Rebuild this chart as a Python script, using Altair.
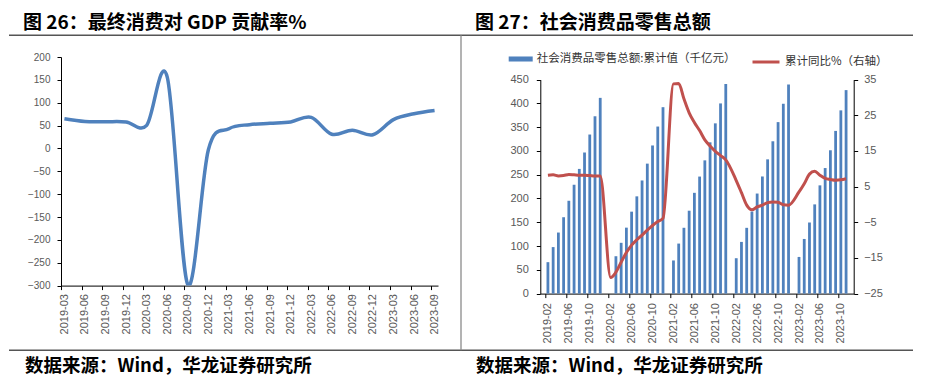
import altair as alt
import pandas as pd

# ---------------- Left chart: final consumption contribution to GDP (%) ----------------
gdp_labels = ["2019-03", "2019-06", "2019-09", "2019-12", "2020-03", "2020-06", "2020-09",
              "2020-12", "2021-03", "2021-06", "2021-09", "2021-12", "2022-03", "2022-06",
              "2022-09", "2022-12", "2023-03", "2023-06", "2023-09"]
gdp_values = [65, 59, 58.5, 58, 50.5, 156, -298, -3, 43, 52, 55, 58, 68, 31, 40, 30, 63, 76, 83]
gdp_y_ticks = [200, 150, 100, 50, 0, -50, -100, -150, -200, -250, -300]

# ---------------- Right chart: retail sales (cumulative, 千亿元) and YoY (%) ----------------
retail_years = [2019, 2020, 2021, 2022, 2023]
retail_2019 = [66.1, 97.8, 128.4, 160.6, 195.2, 228.9, 262.2, 296.7, 334.5, 372.9, 411.6]
retail_2020 = [None, 78.6, 106.8, 138.7, 172.3, 204.5, 237.9, 273.3, 311.5, 351.3, 392.0]
retail_2021 = [69.7, 105.2, 138.4, 174.3, 211.9, 246.1, 280.2, 318.1, 358.0, 399.9, 440.8]
retail_2022 = [74.4, 108.7, 138.3, 172.6, 210.4, 246.3, 282.3, 320.3, 360.6, 399.2, 439.7]
retail_2023 = [77.1, 114.9, 149.5, 187.6, 227.6, 264.0, 301.4, 342.1, 385.3, 427.9]
yoy_2019 = [8.2, 8.3, 8.0, 8.1, 8.4, 8.3, 8.2, 8.2, 8.1, 8.0, 8.0]
yoy_2020 = [-20.5, -19.0, -16.2, -13.5, -11.4, -9.9, -8.6, -7.2, -5.9, -4.8, -3.9]
yoy_2021 = [33.8, 33.9, 29.6, 25.7, 23.0, 20.7, 18.1, 16.4, 14.9, 13.7, 12.5]
yoy_2022 = [6.7, 3.3, -0.2, -1.5, -0.7, -0.2, 0.5, 0.7, 0.6, -0.1, -0.2]
yoy_2023 = [3.5, 5.8, 8.5, 9.3, 8.2, 7.3, 7.0, 6.8, 6.9, 7.2]
retail_tick_labels = ["2019-02", "2019-06", "2019-10", "2020-02", "2020-06", "2020-10",
                      "2021-02", "2021-06", "2021-10", "2022-02", "2022-06", "2022-10",
                      "2023-02", "2023-06", "2023-10"]
retail_y_ticks = [0, 50, 100, 150, 200, 250, 300, 350, 400, 450]
yoy_y_ticks = [-25, -15, -5, 5, 15, 25, 35]

title_left = "图 26：最终消费对 GDP 贡献率%"
title_right = "图 27：社会消费品零售总额"
source_text = "数据来源：Wind，华龙证券研究所"
bar_name = "社会消费品零售总额:累计值（千亿元）"
line_name = "累计同比%（右轴）"

BLUE = "#4f81bd"
RED = "#c0504d"
GRAY = "#595959"
LABEL_FONT = "Liberation Sans"
CJK = "Noto Sans CJK SC"

# ---- tables ----
gdp_df = pd.DataFrame({"m": [i * 3 for i in range(len(gdp_labels))],
                       "label": gdp_labels, "value": gdp_values})

rows = []
retail_all = [retail_2019, retail_2020, retail_2021, retail_2022, retail_2023]
yoy_all = [yoy_2019, yoy_2020, yoy_2021, yoy_2022, yoy_2023]
for yi, year in enumerate(retail_years):
    for j, (v, r) in enumerate(zip(retail_all[yi], yoy_all[yi])):
        month = j + 2
        k = yi * 12 + (month - 2)
        rows.append({"k": k, "month": f"{year}-{month:02d}", "value": v, "yoy": r,
                     "sb": bar_name, "sl": line_name})
retail_df = pd.DataFrame(rows)
bar_df = retail_df.dropna(subset=["value"])

# ---- geometry (plot areas) ----
W1, H1 = 377, 228.6
W2, H2 = 313.4, 236.6
TOP2 = 22.6
N1 = 55  # months in left domain
N2 = 58  # months in right domain
half1 = W1 / N1 / 2
half2 = W2 / N2 / 2

one = alt.Data(values=[{"a": 1}])

# ---------------- Left panel ----------------
left_line = alt.Chart(gdp_df).mark_line(
    color=BLUE, strokeWidth=3.5, interpolate="cardinal", clip=True
).encode(
    x=alt.X("m:Q", scale=alt.Scale(domain=[-0.5, N1 - 0.5], nice=False, zero=False),
            axis=alt.Axis(values=[i * 3 for i in range(len(gdp_labels))],
                          labelExpr="%s[round(datum.value/3)]" % str(gdp_labels),
                          labelAngle=-90, title=None, grid=False, tickSize=4,
                          tickColor="#000", domainColor="#000", labelColor=GRAY,
                          labelFont=LABEL_FONT, labelFontSize=11, labelPadding=4,
                          tickOffset=-half1, labelOffset=half1, labelFlush=False,
                          labelOverlap=False)),
    y=alt.Y("value:Q", scale=alt.Scale(domain=[-300, 200], nice=False, zero=False),
            axis=alt.Axis(values=gdp_y_ticks, title=None, grid=False, tickSize=4,
                          tickColor="#000", domainColor="#000", labelColor=GRAY,
                          labelFont=LABEL_FONT, labelFontSize=10, labelPadding=7)),
)

def rule(x, x2, y, y2, color, width):
    return alt.Chart(one).mark_rule(color=color, strokeWidth=width).encode(
        x=alt.value(x), x2=alt.value(x2), y=alt.value(y), y2=alt.value(y2))

def text(x, y, s, size, weight="bold"):
    return alt.Chart(one).mark_text(
        align="left", baseline="middle", font=CJK, fontSize=size,
        fontWeight=weight, color="#000"
    ).encode(x=alt.value(x), y=alt.value(y), text=alt.value(s))

left_decor = [
    rule(-52, -51, -47.7, -47.7, "#ffffff", 1),
    rule(-52, 852, -21.7, -21.7, "#555555", 1.6),
    rule(-52, 852, 293.3, 293.3, "#555555", 1.6),
    rule(400, 400, -21.7, 293.3, "#8a8a8a", 1.3),
    text(-38, -34.5, title_left, 19),
    text(-36, 309.3, source_text, 18.5),
]

left = alt.layer(left_line, *left_decor).properties(width=W1, height=H1)

# ---------------- Right panel ----------------
xr = alt.X("k:Q", scale=alt.Scale(domain=[-0.5, N2 - 0.5], nice=False, zero=False),
           axis=alt.Axis(values=[i * 4 for i in range(len(retail_tick_labels))],
                         labelExpr="%s[round(datum.value/4)]" % str(retail_tick_labels),
                         labelAngle=-90, title=None, grid=False, tickSize=4,
                         tickColor="#000", domainColor="#000", labelColor=GRAY,
                         labelFont=LABEL_FONT, labelFontSize=11, labelPadding=5,
                         tickOffset=-half2, labelOffset=half2, labelFlush=False,
                         labelOverlap=False))

bars = alt.Chart(bar_df).mark_bar(size=2.8).encode(
    x=xr,
    y=alt.Y("value:Q", scale=alt.Scale(domain=[0, 450], range=[H2, TOP2], nice=False),
            axis=alt.Axis(values=retail_y_ticks, title=None, grid=False, tickSize=4,
                          tickColor="#000", domainColor="#000", labelColor=GRAY,
                          labelFont=LABEL_FONT, labelFontSize=11, labelPadding=8)),
    fill=alt.Fill("sb:N", scale=alt.Scale(domain=[bar_name], range=[BLUE]),
                  legend=alt.Legend(title=None, orient="none", legendX=-31.6, legendY=-10,
                                    symbolType="M-1,-0.21H1V0.21H-1Z", symbolSize=576,
                                    symbolStrokeWidth=0, labelFont=CJK, labelFontSize=11.5,
                                    labelColor="#333333", labelOffset=4, labelLimit=0)),
)

yoy_line = alt.Chart(retail_df).mark_line(strokeWidth=3, interpolate="monotone").encode(
    x=xr,
    y=alt.Y("yoy:Q", scale=alt.Scale(domain=[-25, 35], range=[H2, TOP2], nice=False, zero=False),
            axis=alt.Axis(values=yoy_y_ticks, orient="right", title=None, grid=False, tickSize=4,
                          tickColor="#000", domainColor="#000", labelColor=GRAY,
                          labelFont=LABEL_FONT, labelFontSize=11, labelPadding=6)),
    stroke=alt.Stroke("sl:N", scale=alt.Scale(domain=[line_name], range=[RED]),
                      legend=alt.Legend(title=None, orient="none", legendX=210.7, legendY=-10,
                                        symbolType="stroke", symbolSize=729,
                                        symbolStrokeWidth=3, labelFont=CJK, labelFontSize=11.5,
                                        labelColor="#333333", labelOffset=4, labelLimit=0)),
)

right_decor = [
    text(-65.3, -34.5, title_right, 19),
    text(-64.3, 309.3, source_text, 18.5),
]

right = alt.layer(bars, yoy_line, *right_decor).resolve_scale(
    y="independent", fill="independent", stroke="independent"
).properties(width=W2, height=H2)

chart = alt.hconcat(left, right, spacing=102.3, bounds="flush").properties(
    padding=0, background="#ffffff"
).configure_view(stroke=None)

chart.save("out.html", embed_options={"renderer": "svg", "actions": False})
